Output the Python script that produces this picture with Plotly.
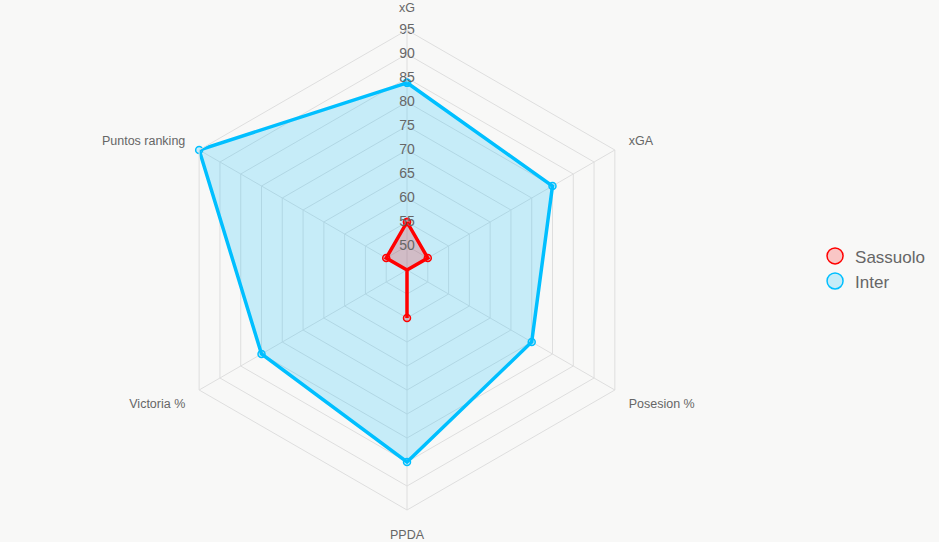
import plotly.graph_objects as go

categories = ["xG", "xGA", "Posesion %", "PPDA", "Victoria %", "Puntos ranking"]
sassuolo = [55, 50, 45, 55, 45, 50]
inter = [84, 80, 75, 85, 80, 95]
tick_vals = [50, 55, 60, 65, 70, 75, 80, 85, 90, 95]

BG = "#f8f8f7"
GRID = "#dedede"
TXT = "#666666"
FONT = "Liberation Sans, Arial, sans-serif"

fig = go.Figure()

def closed(v):
    return v + v[:1]

theta_closed = closed(categories)

fig.add_trace(go.Scatterpolar(
    r=closed(inter), theta=theta_closed, name="Inter", mode="lines+markers",
    fill="toself", fillcolor="rgba(0,191,255,0.2)",
    line=dict(color="#00bfff", width=3.5),
    marker=dict(size=7, color="rgba(0,191,255,0.2)", line=dict(color="#00bfff", width=1.5)),
    showlegend=False,
))
fig.add_trace(go.Scatterpolar(
    r=closed(sassuolo), theta=theta_closed, name="Sassuolo", mode="lines+markers",
    fill="toself", fillcolor="rgba(255,0,0,0.2)",
    line=dict(color="#ff0000", width=3.5),
    marker=dict(size=7, color="rgba(255,0,0,0.2)", line=dict(color="#ff0000", width=1.5)),
    showlegend=False,
))

# radial tick labels centred on the xG spoke
fig.add_trace(go.Scatterpolar(
    r=tick_vals, theta=["xG"] * len(tick_vals), mode="text",
    text=[str(v) for v in tick_vals],
    textfont=dict(size=14, color=TXT, family=FONT),
    showlegend=False, hoverinfo="skip",
))

# legend entries (circles)
fig.add_trace(go.Scatterpolar(
    r=[None], theta=[None], name="Sassuolo", mode="markers",
    marker=dict(size=16, color="rgba(255,0,0,0.2)", line=dict(color="#ff0000", width=1.5)),
))
fig.add_trace(go.Scatterpolar(
    r=[None], theta=[None], name="Inter", mode="markers",
    marker=dict(size=16, color="rgba(0,191,255,0.2)", line=dict(color="#00bfff", width=1.5)),
))

fig.update_layout(
    width=939, height=542,
    paper_bgcolor=BG, plot_bgcolor=BG,
    margin=dict(l=0, r=0, t=0, b=0),
    font=dict(family=FONT, color=TXT),
    polar=dict(
        bgcolor="rgba(0,0,0,0)",
        gridshape="linear",
        domain=dict(x=[167 / 939, 647 / 939], y=[32 / 542, 512 / 542]),
        radialaxis=dict(
            range=[45, 95], tickvals=tick_vals, showticklabels=False,
            ticks="", showline=False, gridcolor=GRID, gridwidth=1, angle=90,
        ),
        angularaxis=dict(
            rotation=90, direction="clockwise",
            categoryorder="array", categoryarray=categories,
            gridcolor=GRID, linecolor=GRID, showline=True,
            ticks="outside", ticklen=13, tickcolor="rgba(0,0,0,0)",
            tickfont=dict(size=12.5, color=TXT, family=FONT),
        ),
    ),
    legend=dict(
        x=0.868, y=0.504, xanchor="left", yanchor="middle",
        font=dict(size=17, color=TXT, family=FONT),
        bgcolor="rgba(0,0,0,0)", itemsizing="trace",
    ),
)

fig.write_html("out.html")
